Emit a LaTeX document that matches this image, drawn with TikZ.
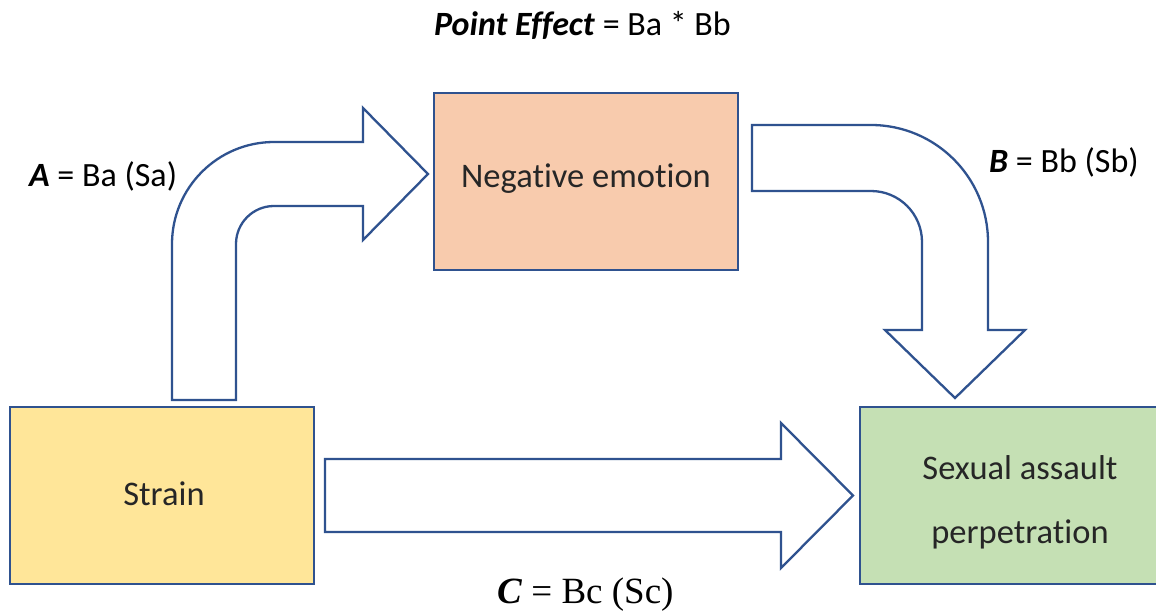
\documentclass[tikz,border=0pt]{standalone}
\usepackage{fontspec}
\setmainfont{Carlito}[Ligatures=NoCommon]
\newfontfamily\timesfont{Liberation Serif}
\definecolor{edgeblue}{HTML}{2F528F}
\definecolor{peach}{HTML}{F8CBAD}
\definecolor{lightyellow}{HTML}{FFE699}
\definecolor{lightgreen}{HTML}{C5E0B4}
\tikzset{
  box/.style={draw=edgeblue, line width=2.8pt, minimum width=304pt, minimum height=177pt,
    inner sep=0pt},
  boxtext/.style={inner sep=0pt, font=\fontsize{34.5}{41}\selectfont, align=center, text=black!85},
  blockarrow/.style={draw=edgeblue, line width=2.3pt, fill=white, line join=miter},
  lbl/.style={anchor=base west, inner sep=0pt, font=\fontsize{34}{40}\selectfont, text=black}
}
\begin{document}
\begin{tikzpicture}[x=1pt,y=-1pt]
\clip (0,0) rectangle (1156,613);
\fill[white] (0,0) rectangle (1156,613);
% boxes
\node[box, fill=lightyellow] (strain) at (162,495.5) {};
\node[boxtext] (straintext) at ([xshift=2pt,yshift=1.5pt]strain.center) {Strain};
\node[box, fill=peach] (neg) at (586,181.5) {};
\node[boxtext] (negtext) at ([yshift=3pt]neg.center) {Negative emotion};
\node[box, fill=lightgreen, minimum width=320pt] (sa) at (1020,495.5) {};
\node[boxtext] (satext) at ([yshift=-7pt]sa.center) {Sexual assault\\[23pt]perpetration};
% arrow A (strain -> negative emotion)
\draw[blockarrow] (172,400) -- (172,244)
  .. controls (172,187.7) and (217.7,142) .. (274,142)
  -- (363,142) -- (363,108) -- (428,174) -- (363,240) -- (363,206) -- (274,206)
  .. controls (253,206) and (236,223) .. (236,244)
  -- (236,400) -- cycle;
% arrow B (negative emotion -> sexual assault)
\draw[blockarrow] (752,125) -- (871,125)
  .. controls (935.6,125) and (988,177.4) .. (988,242)
  -- (988,330) -- (1025,330) -- (955,398) -- (885,330) -- (922,330) -- (922,242)
  .. controls (922,213.8) and (899.2,191) .. (871,191)
  -- (752,191) -- cycle;
% arrow C (strain -> sexual assault)
\draw[blockarrow] (325,459) -- (781,459) -- (781,423) -- (853,495.5) -- (781,568) -- (781,532) -- (325,532) -- cycle;
% labels
\node[lbl] (pe) at (434,35) {\textbf{\textit{Point Effect}} = Ba * Bb};
\node[lbl] (la) at (29,186) {\textbf{\textit{A}} = Ba (Sa)};
\node[lbl] (lb) at (989,172) {\textbf{\textit{B}} = Bb (Sb)};
\node[lbl, font=\timesfont\fontsize{37}{44}\selectfont] (lc) at (497,603) {\textbf{\textit{C}} = Bc (Sc)};
\end{tikzpicture}
\end{document}
